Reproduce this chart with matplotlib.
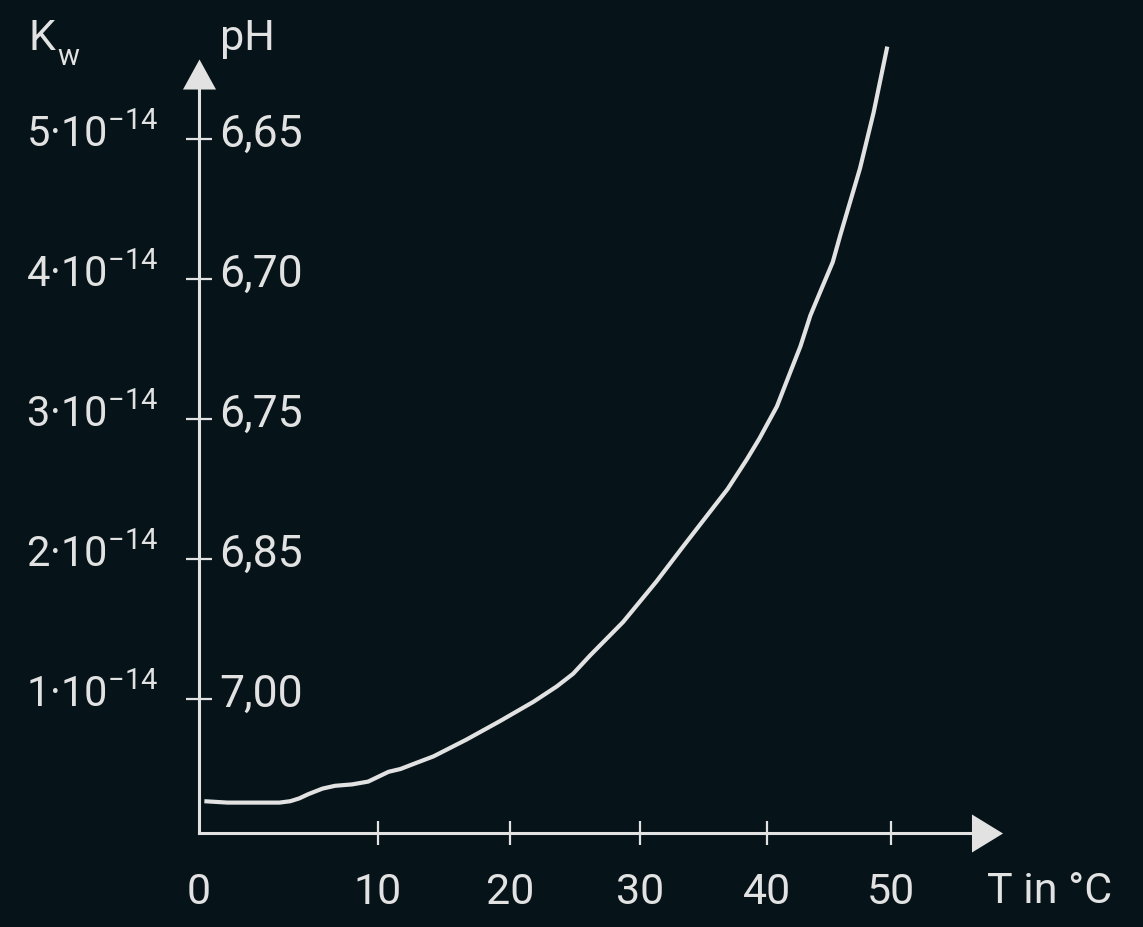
import matplotlib
matplotlib.use("Agg")
import matplotlib.pyplot as plt
import matplotlib.transforms as mtransforms
import numpy as np

# water ion product Kw (in 1e-14) against temperature in °C
temp_c = [0.3, 1.6, 3.5, 4.5, 5.1, 5.6, 6.1, 6.9, 7.6, 8.55, 9.45, 10.8, 11.7,
          12.8, 14.2, 16.7, 19.2, 21.8, 23.6, 24.85, 26.15, 28.7, 31.3, 33.4,
          36.9, 38.4, 39.4, 40.8, 41.9, 42.7, 43.5, 44.3, 45.3, 45.9, 46.7,
          47.5, 48.6, 49.7]
kw = [0.27, 0.26, 0.26, 0.26, 0.27, 0.29, 0.32, 0.36, 0.38, 0.39, 0.41, 0.48, 0.50,
      0.54, 0.59, 0.71, 0.84, 0.98, 1.09, 1.18, 1.31, 1.55, 1.84, 2.09,
      2.50, 2.71, 2.86, 3.09, 3.34, 3.52, 3.74, 3.91, 4.12, 4.31, 4.55,
      4.79, 5.19, 5.66]

kw_ticks = [1, 2, 3, 4, 5]
kw_labels = [r'$\mathrm{%d·10}^{\mathrm{-14}}$' % k for k in kw_ticks]
ph_labels = ['7,00', '6,85', '6,75', '6,70', '6,65']
t_ticks = [0, 10, 20, 30, 40, 50]

# the temperature axis is not evenly spaced in the drawing
scale_t = [0, 10, 20, 30, 40, 50, 60]
scale_u = [0, 179, 311, 441, 568, 692, 816]


def fwd(t):
    return np.interp(t, scale_t, scale_u)


def inv(u):
    return np.interp(u, scale_u, scale_t)


bg = '#061419'
fg = '#e2e2e2'

plt.rcParams['font.family'] = ['Roboto', 'DejaVu Sans']
plt.rcParams['mathtext.fontset'] = 'custom'
plt.rcParams['mathtext.rm'] = 'Roboto'
plt.rcParams['mathtext.it'] = 'Roboto:italic'
plt.rcParams['mathtext.bf'] = 'Roboto:bold'

W, H = 1143, 928
fig = plt.figure(figsize=(W / 100, H / 100), dpi=100, facecolor=bg)
ax = fig.add_axes([199 / W, (H - 834) / H, (987 - 199) / W, (834 - 75) / H])
ax.set_facecolor(bg)

ax.set_xscale('function', functions=(fwd, inv))
ax.set_xlim(0, inv(987 - 199))
ax.set_ylim((840 - 834) / 140, (840 - 75) / 140)

ax.plot(temp_c, kw, color=fg, lw=3, solid_capstyle='butt',
        solid_joinstyle='round', clip_on=False)

for s in ['top', 'right']:
    ax.spines[s].set_visible(False)
for s in ['left', 'bottom']:
    ax.spines[s].set_color(fg)
    ax.spines[s].set_linewidth(2.2)

# arrow heads
ax.plot([1], [0], transform=ax.transAxes, clip_on=False, color=fg,
        marker=[(-15.5, -19), (15.5, 0), (-15.5, 19)], ms=27.4, mew=0)
ax.plot([0], [1], transform=ax.transAxes, clip_on=False, color=fg,
        marker=[(-16.5, -15), (0, 15), (16.5, -15)], ms=23.8, mew=0)

ax.set_xticks(t_ticks)
ax.set_xticklabels([str(t) for t in t_ticks])
ax.tick_params(axis='x', direction='inout', length=17, width=1.6, color=fg,
               labelcolor=fg, labelsize=31, pad=19)
ax.xaxis.get_major_ticks()[0].tick1line.set_visible(False)

ax.set_yticks(kw_ticks)
ax.tick_params(axis='y', direction='inout', length=19, width=1.6, color=fg,
               labelleft=False)

ytrans = ax.get_yaxis_transform()
for k, lab, ph in zip(kw_ticks, kw_labels, ph_labels):
    off_l = mtransforms.ScaledTranslation(-41 / 100, -7 / 100, fig.dpi_scale_trans)
    off_r = mtransforms.ScaledTranslation(20 / 100, -7 / 100, fig.dpi_scale_trans)
    ax.text(0, k, lab, transform=ytrans + off_l, ha='right', va='baseline',
            color=fg, fontsize=30, clip_on=False)
    ax.text(0, k, ph, transform=ytrans + off_r, ha='left', va='baseline',
            color=fg, fontsize=32, clip_on=False)

fig.text(28 / W, 1 - 50 / H, 'K', color=fg, fontsize=31, ha='left', va='baseline')
fig.text(57 / W, 1 - 65 / H, 'w', color=fg, fontsize=21, ha='left', va='baseline')
fig.text(220 / W, 1 - 50 / H, 'pH', color=fg, fontsize=31, ha='left', va='baseline')
fig.text(987 / W, 1 - 903 / H, 'T in °C', color=fg, fontsize=31, ha='left', va='baseline')

fig.savefig('out.png', dpi=100, facecolor=bg)
